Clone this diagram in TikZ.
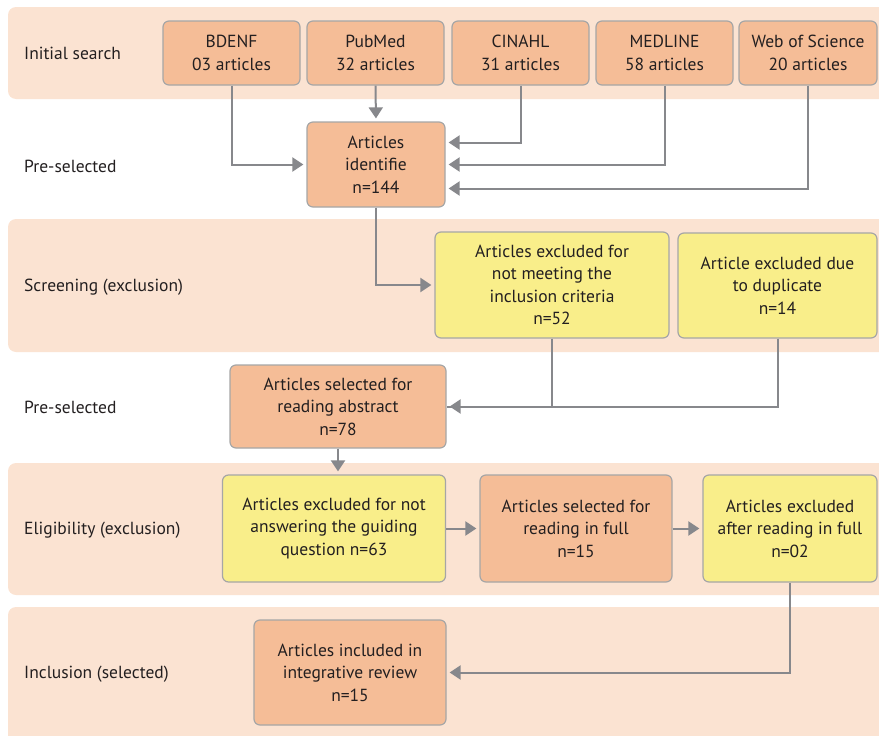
\documentclass[tikz,border=0pt]{standalone}
\usepackage{fontspec}
\setmainfont{PT Sans}
\usetikzlibrary{arrows.meta,positioning,calc}
\definecolor{bandc}{RGB}{251,227,210}
\definecolor{orng}{RGB}{245,189,151}
\definecolor{yell}{RGB}{249,238,138}
\definecolor{edgec}{RGB}{166,166,166}
\definecolor{arrc}{RGB}{135,136,140}
\definecolor{txt}{RGB}{35,31,32}
\tikzset{
  band/.style={fill=bandc,rounded corners=8pt},
  lab/.style ={anchor=west,inner sep=0pt,text=txt,font=\fontsize{17.5}{22}\selectfont},
  box/.style ={draw=edgec,line width=1.2pt,fill=orng,rounded corners=6pt,align=center,inner sep=0pt,text=txt,font=\fontsize{17.5}{22.5}\selectfont},
  ybox/.style={box,fill=yell},
  ln/.style  ={arrc,line width=2pt},
  ar/.style  ={ln,-{Triangle[length=11pt,width=14pt]},shorten >=3pt},
}

\begin{document}
\begin{tikzpicture}[x=1pt,y=-1pt]
  \useasboundingbox (0,0) rectangle (879,736);
  % stage bands
  \fill[band] (8,7) rectangle (890,99);
  \fill[band] (8,219) rectangle (890,352);
  \fill[band] (8,463) rectangle (890,595);
  \fill[band] (8,607) rectangle (890,750);
  \node[lab] (s1) at (24,53){Initial search};
  \node[lab] (s2) at (24,166){Pre-selected};
  \node[lab] (s3) at (24,287){Screening (exclusion)};
  \node[lab] (s4) at (24,407){Pre-selected};
  \node[lab] (s5) at (24,530){Eligibility (exclusion)};
  \node[lab] (s6) at (24,674){Inclusion (selected)};
  % databases
  \node[box,minimum width=137pt,minimum height=64pt] (bdenf) at (231.5,53){BDENF\\03 articles};
  \node[box,minimum width=137pt,minimum height=64pt] (pub) at (375.5,53){PubMed\\32 articles};
  \node[box,minimum width=137pt,minimum height=64pt] (cin) at (520.5,53){CINAHL\\31 articles};
  \node[box,minimum width=137pt,minimum height=64pt] (med) at (664.5,53){MEDLINE\\58 articles};
  \node[box,minimum width=138pt,minimum height=64pt] (wos) at (808,53){Web of Science\\20 articles};
  % flow
  \node[box,minimum width=138pt,minimum height=85pt] (idf) at (376,164.5){Articles\\identifie\\n=144};
  \node[ybox,minimum width=234pt,minimum height=106pt] (exc1) at (552,285){Articles excluded for\\not meeting the\\inclusion criteria\\n=52};
  \node[ybox,minimum width=199pt,minimum height=105pt] (dup) at (777.5,285.5){Article excluded due\\to duplicate\\n=14};
  \node[box,minimum width=216pt,minimum height=83pt] (abs) at (338,406.5){Articles selected for\\reading abstract\\n=78};
  \node[ybox,minimum width=223pt,minimum height=107pt] (eli1) at (334,528.5){Articles excluded for not\\answering the guiding\\question n=63};
  \node[box,minimum width=192pt,minimum height=107pt] (full) at (576,528.5){Articles selected for\\reading in full\\n=15};
  \node[ybox,minimum width=174pt,minimum height=107pt] (aft) at (790,528.5){Articles excluded\\after reading in full\\n=02};
  \node[box,minimum width=192pt,minimum height=105pt] (inc) at (350,672.5){Articles included in\\integrative review\\n=15};

  \draw[ar] (bdenf.south) |- (idf.west);
  \draw[ar] (pub.south) -- (idf.north);
  \draw[ar] (cin.south) |- ([yshift=22pt]idf.east);
  \draw[ar] (med.south) |- (idf.east);
  \draw[ar] (wos.south) |- ([yshift=-24pt]idf.east);
  \draw[ar] (idf.south) |- (exc1.west);
  \draw[ln] (exc1.south) |- (abs.east);
  \draw[ar] (dup.south) |- (abs.east);
  \draw[ar] (abs.south) -- (abs.south |- eli1.north);
  \draw[ar] (eli1) -- (full);
  \draw[ar] (full) -- (aft);
  \draw[ar] (aft.south) |- (inc.east);
\end{tikzpicture}
\end{document}
